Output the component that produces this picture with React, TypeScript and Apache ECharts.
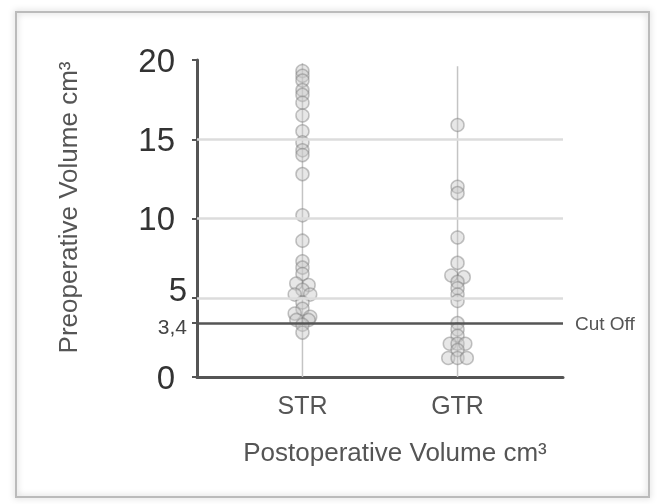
import React, { useEffect, useRef } from "react";
import * as echarts from "echarts";

const categories = ["STR", "GTR"];
const yTickValues = [0, 3.4, 5, 10, 15, 20];
const gridValues = [5, 10, 15];
const cutOff = 3.4;
// [category position (with small horizontal spread), volume]
const strPoints: [number, number][] = [
  [1, 19.3], [1, 19.0], [1, 18.7], [1, 18.1], [1, 17.8], [1, 17.3], [1, 16.5], [1, 15.5],
  [1, 14.8], [1, 14.3], [1, 14.0], [1, 12.8], [1, 10.2], [1, 8.6], [1, 7.3], [1, 6.9],
  [1, 6.5], [0.96, 5.9], [1.04, 5.8], [1, 5.5], [0.95, 5.2], [1.05, 5.2], [1, 4.7],
  [1, 4.3], [0.95, 4.0], [1.05, 3.8], [0.96, 3.6], [1.04, 3.6], [1, 3.3], [1, 2.8],
];
const gtrPoints: [number, number][] = [
  [2, 15.9], [2, 12.0], [2, 11.6], [2, 8.8], [2, 7.2], [1.96, 6.4], [2.04, 6.3], [2, 6.0],
  [2, 5.6], [2, 5.2], [2, 4.8], [2, 3.4], [2, 3.0], [2, 2.6], [1.95, 2.1], [2, 2.1],
  [2.05, 2.1], [2, 1.7], [1.94, 1.2], [2, 1.2], [2.06, 1.2],
];
const strRange = [0, 19.8];
const gtrRange = [0, 19.6];

const FONT = "'Liberation Sans', Arial, sans-serif";

export default function App() {
  const ref = useRef<HTMLDivElement>(null);
  useEffect(() => {
    if (!ref.current) return;
    const chart = echarts.init(ref.current, null, { renderer: "svg" });
    const pointStyle = {
      color: "rgba(200,200,200,0.55)",
      borderColor: "rgba(120,120,120,0.55)",
      borderWidth: 1.5,
    };
    chart.setOption({
      animation: false,
      backgroundColor: "#fff",
      textStyle: { fontFamily: FONT },
      graphic: [
        {
          type: "rect",
          shape: { x: 16, y: 12, width: 633, height: 485 },
          style: {
            fill: "none",
            stroke: "#bbb",
            lineWidth: 2,
            shadowBlur: 6,
            shadowColor: "rgba(0,0,0,0.25)",
          },
          z: -1,
        },
      ],
      grid: { left: 197, right: 94, top: 60, bottom: 127 },
      xAxis: {
        type: "value",
        min: 0.32,
        max: 2.68,
        name: "Postoperative Volume cm³",
        nameLocation: "middle",
        nameGap: 62,
        nameTextStyle: {
          fontSize: 26,
          color: "#555",
          fontFamily: FONT,
          padding: [0, 0, 0, 30],
        },
        axisLine: { show: true, lineStyle: { color: "#555", width: 3 } },
        axisTick: { show: false },
        splitLine: { show: false },
        axisLabel: {
          customValues: [1, 2],
          formatter: (v: number) => categories[Math.round(v) - 1] ?? "",
          fontSize: 25,
          color: "#555",
          margin: 15,
          fontFamily: FONT,
        },
      },
      yAxis: {
        type: "value",
        min: 0,
        max: 20,
        interval: 5,
        name: "Preoperative Volume cm³",
        nameLocation: "middle",
        nameRotate: 90,
        nameGap: 116,
        nameTextStyle: {
          fontSize: 26,
          color: "#555",
          fontFamily: FONT,
          padding: [0, 0, 0, 22],
        },
        axisLine: { show: true, lineStyle: { color: "#555", width: 3 } },
        axisTick: {
          show: true,
          customValues: yTickValues,
          length: 5,
          lineStyle: { color: "#555", width: 2 },
        },
        splitLine: { show: false },
        axisLabel: {
          customValues: yTickValues,
          formatter: (v: number) =>
            Math.abs(v - cutOff) < 1e-6
              ? "{s|3,4}"
              : v === 5
              ? "{n|5}"
              : "{w|" + v + "}",
          color: "#333",
          margin: 10,
          fontFamily: FONT,
          rich: {
            s: {
              fontSize: 21,
              lineHeight: 16,
              color: "#444",
              fontFamily: FONT,
              padding: [6, 0, 0, 0],
            },
            n: {
              fontSize: 33,
              lineHeight: 24,
              color: "#333",
              fontFamily: FONT,
              padding: [0, 0, 16, 0],
            },
            w: {
              fontSize: 33,
              lineHeight: 30,
              color: "#333",
              fontFamily: FONT,
              padding: [0, 12, 0, 0],
            },
          },
        },
      },
      series: [
        {
          type: "line",
          data: strRange.map((v) => [1, v]),
          symbol: "none",
          lineStyle: { color: "#c4c4c4", width: 1.5 },
          z: 1,
          markLine: {
            silent: true,
            symbol: "none",
            data: gridValues.map((v) => ({ yAxis: v })),
            lineStyle: { color: "#dcdcdc", width: 2.5, type: "solid" },
            label: { show: false },
          },
        },
        {
          type: "line",
          data: gtrRange.map((v) => [2, v]),
          symbol: "none",
          lineStyle: { color: "#c4c4c4", width: 1.5 },
          z: 1,
          markLine: {
            silent: true,
            symbol: "none",
            data: [{ yAxis: cutOff }],
            lineStyle: { color: "#555", width: 2.5, type: "solid" },
            label: {
              show: true,
              position: "end",
              formatter: "Cut Off",
              fontSize: 19,
              color: "#555",
              distance: 12,
              fontFamily: FONT,
            },
          },
        },
        {
          type: "scatter",
          data: strPoints,
          symbol: "circle",
          symbolSize: 13,
          itemStyle: pointStyle,
          z: 3,
        },
        {
          type: "scatter",
          data: gtrPoints,
          symbol: "circle",
          symbolSize: 13,
          itemStyle: pointStyle,
          z: 3,
        },
      ],
    });
    return () => chart.dispose();
  }, []);
  return (
    <div
      ref={ref}
      style={{
        position: "absolute",
        left: 0,
        top: 0,
        width: 657,
        height: 504,
        filter: "blur(0.7px)",
      }}
    />
  );
}
